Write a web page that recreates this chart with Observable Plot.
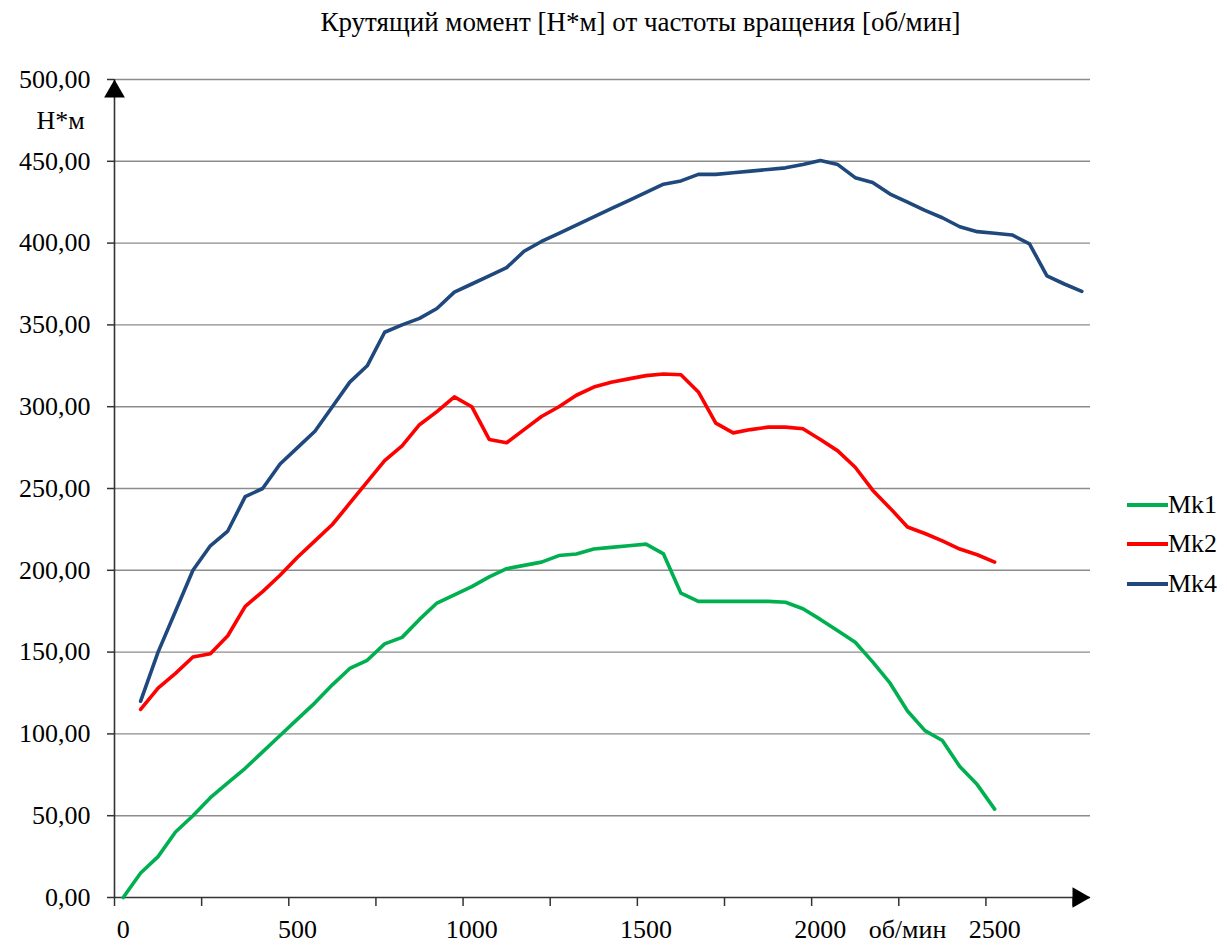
<!DOCTYPE html>
<html>
<head>
<meta charset="utf-8">
<script src="https://cdn.jsdelivr.net/npm/d3@7"></script>
<script src="https://cdn.jsdelivr.net/npm/@observablehq/plot@0.6"></script>
<style>
  html, body { margin: 0; padding: 0; background: #fff; }
  #wrap { position: relative; width: 1227px; height: 949px; font-family: "Liberation Serif", "Times New Roman", serif; color: #000; }
  #title { width: 1227px; height: 45px; box-sizing: border-box; padding-left: 54px; text-align: center; line-height: 44px; font-size: 27px; }
  #legend { position: absolute; left: 1127px; top: 0; }
  .lg { position: absolute; left: 0; height: 30px; line-height: 30px; font-size: 26px; white-space: nowrap; display: flex; align-items: center; }
  .lg svg { display: block; }
</style>
</head>
<body>
<div id="wrap">
  <div id="title">Крутящий момент [Н*м] от частоты вращения [об/мин]</div>
  <div id="chart"></div>
  <div id="legend"></div>
</div>
<script>
// ---- data ----
const rpm = [0, 50, 100, 150, 200, 250, 300, 350, 400, 450, 500, 550, 600, 650, 700, 750, 800, 850, 900, 950,
  1000, 1050, 1100, 1150, 1200, 1250, 1300, 1350, 1400, 1450, 1500, 1550, 1600, 1650, 1700, 1750, 1800, 1850, 1900, 1950,
  2000, 2050, 2100, 2150, 2200, 2250, 2300, 2350, 2400, 2450, 2500, 2550, 2600, 2650, 2700, 2750];

// Mk1: from 0 rpm
const mk1 = [0, 15, 25, 40, 50, 61, 70, 79, 89, 99, 109, 119, 130, 140, 145, 155, 159, 170, 180, 185,
  190, 196, 201, 203, 205, 209, 210, 213, 214, 215, 216, 210, 186, 181, 181, 181, 181, 181, 180.5, 176.5,
  170, 163, 156, 144, 131, 114, 102, 96, 80, 69, 54];
// Mk2: from 50 rpm
const mk2 = [115, 128, 137, 147, 149, 160, 178, 187, 197, 208, 218, 228, 241, 254, 267, 276, 289, 297, 306,
  300, 280, 278, 286, 294, 300, 307, 312, 315, 317, 319, 320, 319.5, 309, 290, 284, 286, 287.5, 287.5, 286.5,
  280, 273, 263, 249, 238, 226.5, 222.5, 218, 213, 209.5, 205];
// Mk4: from 50 rpm
const mk4 = [120, 150, 175, 200, 215, 224, 245, 250, 265, 275, 285, 300, 315, 325, 345.5, 350, 354, 360, 370,
  375, 380, 385, 395, 401, 406, 411, 416, 421, 426, 431, 436, 438, 442, 442, 443, 444, 445, 446, 448,
  450.5, 448, 440, 437, 430, 425, 420, 415.5, 410, 407, 406, 405, 399.5, 380, 375, 370.5];

const seriesNames = ["Mk1", "Mk2", "Mk4"];
const seriesColors = ["#00B050", "#FF0000", "#1F497D"];

const yTicks = [0, 50, 100, 150, 200, 250, 300, 350, 400, 450, 500];
const xTickMarks = [-25, 225, 475, 725, 975, 1225, 1475, 1725, 1975, 2225, 2475, 2725];
const xLabels = [0, 500, 1000, 1500, 2000, 2500];
const xUnit = [{x: 2250, text: "об/мин"}];
const yUnit = "Н*м";
const xDomain = [-25, 2775];
const yDomain = [0, 500];

// ---- table ----
const rows = [];
mk1.forEach((v, i) => rows.push({rpm: rpm[i], v, s: "Mk1"}));
mk2.forEach((v, i) => rows.push({rpm: rpm[i + 1], v, s: "Mk2"}));
mk4.forEach((v, i) => rows.push({rpm: rpm[i + 1], v, s: "Mk4"}));

const fmt = d => d.toFixed(2).replace(".", ",");

const chart = Plot.plot({
  width: 1227,
  height: 904,
  marginLeft: 114,
  marginRight: 137,
  marginTop: 34,
  marginBottom: 52,
  x: {domain: xDomain, axis: null},
  y: {domain: yDomain, axis: null},
  color: {domain: seriesNames, range: seriesColors},
  style: {fontFamily: "Liberation Serif, Times New Roman, serif", fontSize: "26px", color: "#000", background: "#fff", overflow: "visible"},
  marks: [
    Plot.ruleY(yTicks.filter(d => d > 0), {y: d => d, stroke: "#8c8c8c", strokeWidth: 1.4}),
    Plot.axisY({ticks: yTicks, tickSize: 7, tickPadding: 17, tickFormat: fmt, fontSize: 26, label: null, stroke: "#333", strokeWidth: 1.5}),
    Plot.axisX({ticks: xTickMarks, tickSize: 9, tickFormat: () => "", label: null, stroke: "#333", strokeWidth: 1.5}),
    Plot.ruleX([xDomain[0]], {x: d => d, stroke: "#333", strokeWidth: 1.6}),
    Plot.ruleY([yDomain[0]], {y: d => d, stroke: "#333", strokeWidth: 1.6}),
    Plot.line(rows, {x: "rpm", y: "v", z: "s", stroke: "s", strokeWidth: 3.6, strokeLinejoin: "round", strokeLinecap: "round"}),
    Plot.text(xLabels, {x: d => d, frameAnchor: "bottom", dy: 40, fontSize: 26, text: d => String(d)}),
    Plot.text(xUnit, {x: "x", text: "text", frameAnchor: "bottom", dy: 40, fontSize: 26}),
    Plot.text([yUnit], {text: d => d, frameAnchor: "top-left", textAnchor: "middle", lineAnchor: "middle", dx: -54, dy: 41, fontSize: 26}),
    Plot.dot([{x: xDomain[0], y: yDomain[1]}], {x: "x", y: "y", symbol: "triangle", r: 7.7, fill: "#000", stroke: "none", dy: 12}),
    Plot.dot([{x: xDomain[1], y: yDomain[0]}], {x: "x", y: "y", symbol: "triangle", r: 7.7, fill: "#000", stroke: "none", dx: -12, rotate: 90})
  ]
});
document.getElementById("chart").appendChild(chart);

// ---- legend ----
const legendTops = [505, 544, 584];
const lg = document.getElementById("legend");
seriesNames.forEach((name, i) => {
  const row = document.createElement("div");
  row.className = "lg";
  row.style.top = (legendTops[i] - 15) + "px";
  row.innerHTML = `<svg width="41" height="10"><line x1="0" x2="41" y1="5" y2="5" stroke="${seriesColors[i]}" stroke-width="4"/></svg><span>${name}</span>`;
  lg.appendChild(row);
});
</script>
</body>
</html>
